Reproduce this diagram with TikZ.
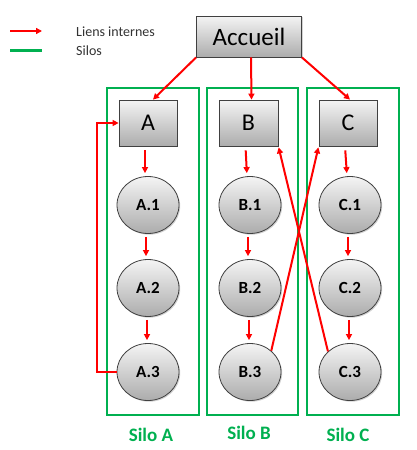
\documentclass[tikz,border=0pt]{standalone}
\usepackage{fontspec}
\setmainfont{Carlito}
\usetikzlibrary{arrows.meta,shapes.geometric,shadows,calc}
\definecolor{silogreen}{HTML}{00B050}
\definecolor{boxtop}{HTML}{F4F4F4}
\definecolor{boxbot}{HTML}{ACACAC}
\tikzset{
  pagebox/.style={draw=black!75, line width=0.8pt, top color=boxtop, bottom color=boxbot,
    inner sep=0pt, drop shadow={shadow xshift=1.2pt, shadow yshift=-1.2pt, opacity=0.35}},
  pageell/.style={ellipse, draw=black!75, line width=0.8pt, top color=boxtop, bottom color=boxbot,
    minimum width=62pt, minimum height=57pt, inner sep=0pt, font=\bfseries\fontsize{17}{19}\selectfont,
    drop shadow={shadow xshift=1.2pt, shadow yshift=-1.2pt, opacity=0.35}},
  lien/.style={red, line width=2pt, -{Triangle[length=6pt,width=6pt]}},
  silo/.style={draw=silogreen, line width=2.5pt},
  silolab/.style={text=silogreen, font=\bfseries\fontsize{19}{21}\selectfont},
  legtext/.style={anchor=west, inner sep=0pt, text=black!80, font=\fontsize{14}{16}\selectfont},
}
\begin{document}
\begin{tikzpicture}[x=1pt,y=-1pt]
\useasboundingbox[fill=white] (0,0) rectangle (417,450);
% legend
\coordinate (l1a) at (10,31);
\coordinate (l1b) at (42,31);
\coordinate (l2a) at (10,50);
\coordinate (l2b) at (42,50);
\draw[lien, line width=2.5pt] (l1a) -- (l1b);
\draw[silo, line width=3pt] (l2a) -- (l2b);
\node[legtext] (leg1) at (76,32) {Liens internes};
\node[legtext] (leg2) at (76,51) {Silos};
% silos
\draw[silo] (107,88) rectangle (199,415);
\draw[silo] (207,88) rectangle (298,415);
\draw[silo] (307,88) rectangle (399,415);
\node[silolab] (sA) at (151,435) {Silo A};
\node[silolab] (sB) at (249,433) {Silo B};
\node[silolab] (sC) at (348,435) {Silo C};
% nodes
\node[pagebox, minimum width=105pt, minimum height=41pt, font=\fontsize{25}{27}\selectfont] (acc) at (249,36.5) {Accueil};
\node[pagebox, minimum width=58pt, minimum height=46pt, font=\fontsize{24}{26}\selectfont] (A) at (148,123) {A};
\node[pagebox, minimum width=59pt, minimum height=46pt, font=\fontsize{24}{26}\selectfont] (B) at (248.5,123) {B};
\node[pagebox, minimum width=58pt, minimum height=46pt, font=\fontsize{24}{26}\selectfont] (C) at (348,123) {C};
\node[pageell] (A1) at (148,205) {A.1};
\node[pageell] (A2) at (148,288) {A.2};
\node[pageell] (A3) at (148,372) {A.3};
\node[pageell] (B1) at (250,205) {B.1};
\node[pageell] (B2) at (250,288) {B.2};
\node[pageell] (B3) at (250,372) {B.3};
\node[pageell] (C1) at (350,205) {C.1};
\node[pageell] (C2) at (350,288) {C.2};
\node[pageell] (C3) at (350,372) {C.3};
% links
\draw[lien] (acc.south west) -- ([xshift=5pt]A.north);
\draw[lien] ([xshift=2pt]acc.south) -- ([xshift=3pt]B.north);
\draw[lien] (acc.south east) -- ([xshift=2pt]C.north);
\foreach \s in {A,B,C}{
  \draw[lien, shorten <=4pt, shorten >=3pt] ([xshift=-3pt]\s.south) -- ([xshift=-3pt]\s1.north);
  \draw[lien, shorten <=3pt, shorten >=3pt] ([xshift=-2pt]\s1.south) -- ([xshift=-2pt]\s2.north);
  \draw[lien, shorten <=3pt, shorten >=3pt] ([xshift=-1pt]\s2.south) -- ([xshift=-1pt]\s3.north);
}
\coordinate (loop) at (97,372);
\draw[lien] (A3.west) -- (loop) |- (A.west);
\draw[lien, shorten >=1pt] (B3.45) -- (C.south west);
\draw[lien, shorten >=1pt] (C3.137) -- (B.south east);
\end{tikzpicture}
\end{document}
